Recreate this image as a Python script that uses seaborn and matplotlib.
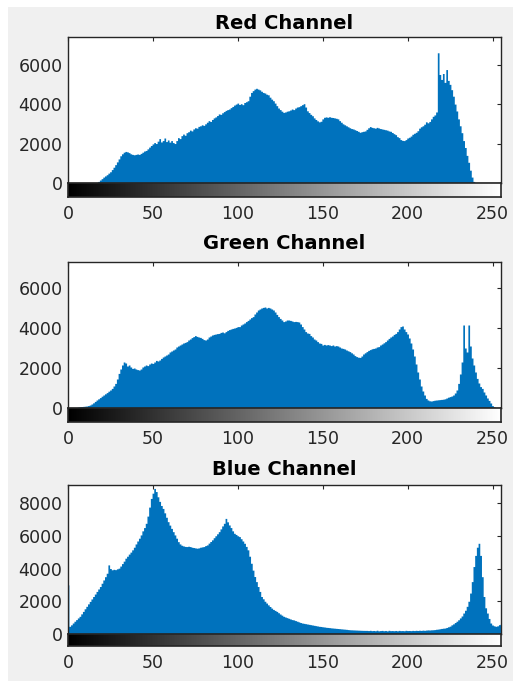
import numpy as np
import matplotlib
matplotlib.use("Agg")
import matplotlib.pyplot as plt
import seaborn as sns
import pandas as pd

# ------------ histogram counts (bins 0..255) ------------#
levels = np.arange(256)

red_counts = [
    0, 0, 0, 0, 0, 0, 0, 0, 0, 0, 0, 0, 0, 0, 0, 0,
    0, 30, 80, 150, 220, 300, 360, 420, 500, 570, 680, 800, 930, 1070, 1220, 1380,
    1480, 1560, 1600, 1580, 1540, 1480, 1450, 1430, 1450, 1470, 1450, 1500, 1560, 1620, 1650, 1730,
    1820, 1900, 1980, 2050, 2000, 2120, 2250, 2080, 2150, 2280, 2100, 2180, 2070, 2150, 2050, 2000,
    2150, 2300, 2250, 2400, 2480, 2420, 2550, 2600, 2680, 2640, 2740, 2800, 2780, 2870, 2900, 2950,
    2920, 3000, 3080, 3160, 3120, 3220, 3300, 3350, 3420, 3500, 3480, 3560, 3620, 3680, 3720, 3750,
    3820, 3880, 3950, 4000, 4050, 3980, 4020, 3970, 4080, 4120, 4170, 4400, 4590, 4680, 4760, 4800,
    4760, 4720, 4650, 4590, 4560, 4500, 4470, 4350, 4250, 4170, 4050, 3920, 3800, 3720, 3640, 3580,
    3600, 3640, 3660, 3700, 3750, 3720, 3800, 3850, 3870, 3920, 3970, 4020, 3850, 3660, 3570, 3480,
    3410, 3300, 3220, 3150, 3100, 3130, 3250, 3330, 3350, 3330, 3360, 3330, 3320, 3300, 3280, 3250,
    3160, 3080, 3000, 2950, 2900, 2850, 2800, 2760, 2740, 2700, 2660, 2620, 2570, 2600, 2620, 2640,
    2720, 2800, 2860, 2820, 2800, 2780, 2820, 2790, 2760, 2740, 2720, 2700, 2680, 2640, 2620, 2560,
    2500, 2450, 2350, 2300, 2200, 2160, 2150, 2200, 2280, 2320, 2380, 2470, 2520, 2570, 2650, 2780,
    2850, 2900, 2980, 3100, 3050, 3120, 3250, 3380, 3450, 3600, 6600, 5500, 5250, 5550, 5100, 5750,
    5200, 5000, 4730, 4400, 4000, 3650, 3250, 2900, 2550, 2150, 1800, 1400, 1050, 650, 300, 80,
    20, 0, 0, 0, 0, 0, 0, 0, 0, 0, 0, 0, 0, 0, 0, 0,
]

green_counts = [
    0, 0, 0, 0, 0, 20, 40, 60, 70, 80, 90, 100, 120, 150, 200, 260,
    330, 400, 460, 520, 590, 650, 710, 770, 840, 900, 980, 1100, 1230, 1450, 1730, 1950,
    2150, 2300, 2250, 2100, 2150, 2050, 1980, 2000, 1950, 1920, 1900, 1950, 2050, 2100, 2150, 2120,
    2200, 2250, 2230, 2300, 2380, 2350, 2400, 2480, 2550, 2600, 2650, 2700, 2800, 2850, 2900, 2950,
    3050, 3100, 3150, 3200, 3250, 3280, 3320, 3400, 3450, 3520, 3570, 3620, 3580, 3550, 3530, 3480,
    3420, 3400, 3450, 3550, 3600, 3650, 3680, 3700, 3720, 3730, 3780, 3800, 3760, 3820, 3880, 3920,
    3950, 3980, 4000, 4030, 4070, 4070, 4150, 4200, 4250, 4320, 4380, 4450, 4520, 4570, 4700, 4800,
    4900, 4950, 5000, 5030, 5050, 5000, 5030, 5000, 4950, 4900, 4800, 4680, 4570, 4480, 4400, 4320,
    4350, 4400, 4400, 4380, 4350, 4320, 4330, 4320, 4300, 4200, 4070, 3950, 3820, 3750, 3730, 3620,
    3550, 3450, 3400, 3320, 3250, 3230, 3150, 3180, 3150, 3170, 3150, 3120, 3150, 3100, 3120, 3100,
    3050, 3000, 2980, 2950, 2900, 2860, 2820, 2760, 2700, 2620, 2570, 2540, 2530, 2600, 2700, 2760,
    2820, 2880, 2920, 2960, 2980, 3000, 3050, 3070, 3150, 3200, 3260, 3320, 3400, 3480, 3550, 3600,
    3680, 3730, 3820, 3950, 4070, 4100, 3950, 3820, 3700, 3500, 3250, 2950, 2600, 2200, 1800, 1450,
    1100, 850, 650, 480, 400, 360, 350, 370, 390, 400, 410, 420, 430, 440, 460, 500,
    540, 570, 600, 650, 750, 900, 1230, 1700, 2300, 4150, 3000, 2800, 4150, 3100, 2500, 2150,
    1800, 1480, 1250, 1070, 980, 800, 650, 500, 380, 250, 120, 60, 20, 0, 0, 0,
]

blue_counts = [
    3000, 470, 560, 670, 780, 880, 980, 1080, 1230, 1380, 1540, 1690, 1840, 1990, 2140, 2290,
    2440, 2600, 2750, 2900, 3100, 3300, 3500, 3710, 4220, 4000, 3920, 3950, 3930, 3980, 4020, 4150,
    4300, 4450, 4630, 4750, 4880, 5000, 5140, 5300, 5500, 5680, 5850, 6050, 6300, 6500, 6760, 7200,
    7750, 8280, 8600, 8890, 8700, 8380, 8100, 7850, 7670, 7400, 7130, 6860, 6650, 6450, 6250, 6050,
    5850, 5640, 5500, 5420, 5380, 5350, 5340, 5360, 5340, 5300, 5280, 5260, 5240, 5260, 5300, 5320,
    5340, 5400, 5440, 5550, 5650, 5750, 5880, 6000, 6120, 6250, 6420, 6600, 6760, 7060, 6850, 6660,
    6500, 6300, 6150, 6080, 6000, 5950, 5820, 5680, 5540, 5350, 5140, 4750, 4320, 3900, 3510, 3200,
    2900, 2600, 2290, 2150, 2000, 1890, 1780, 1680, 1580, 1500, 1440, 1380, 1300, 1220, 1150, 1080,
    1040, 1000, 960, 920, 880, 860, 820, 780, 740, 700, 670, 650, 630, 610, 590, 570,
    550, 530, 510, 490, 470, 460, 440, 430, 410, 400, 390, 375, 365, 355, 345, 335,
    325, 315, 305, 295, 285, 270, 260, 255, 250, 245, 240, 235, 230, 225, 222, 220,
    220, 210, 225, 205, 215, 200, 230, 195, 210, 220, 200, 215, 190, 225, 205, 210,
    200, 215, 195, 220, 205, 210, 200, 225, 210, 215, 205, 220, 210, 225, 215, 230,
    220, 235, 225, 240, 250, 245, 255, 260, 270, 290, 300, 320, 340, 355, 365, 400,
    440, 480, 560, 620, 700, 780, 870, 980, 1100, 1280, 1450, 1690, 2000, 2500, 3200, 4120,
    4800, 5300, 5540, 4800, 3500, 2290, 1600, 1280, 950, 670, 550, 500, 470, 500, 570, 600,
]

titles = ["Red Channel", "Green Channel", "Blue Channel"]
y_tops = [7400, 7300, 9100]
y_ticks = [[0, 2000, 4000, 6000], [0, 2000, 4000, 6000], [0, 2000, 4000, 6000, 8000]]
x_ticks = [0, 50, 100, 150, 200, 250]

sns.set_style("white")
plt.rcParams['font.family'] = ['DejaVu Sans']

W, H = 521, 681
fig = plt.figure(figsize=(W / 100, H / 100), dpi=100, facecolor='white')
fig.patches.append(plt.Rectangle((8 / W, 0), 505 / W, 1 - 7 / H, transform=fig.transFigure,
                                 facecolor='#f0f0f0', edgecolor='none', zorder=-10))

# pixel rows: top of plot, zero line, bottom of gray bar
rows = [(37, 183, 197), (262, 408, 422), (485, 634, 646)]
title_pads = [5.8, 9.4, 7.2]
left, right = 68, 501
dark = '#262626'


def box(top, bottom):
    return [left / W, 1 - bottom / H, (right - left) / W, (bottom - top) / H]


for i, counts in enumerate([red_counts, green_counts, blue_counts]):
    top, zero, bar_bottom = rows[i]
    df = pd.DataFrame({"level": levels, "count": counts})

    ax = fig.add_axes(box(top, zero))
    sns.histplot(data=df, x="level", weights="count", discrete=True, element="step",
                 fill=True, color="#0072BD", alpha=1, linewidth=0, ax=ax)
    ax.set_xlim(0, 255)
    ax.set_ylim(0, y_tops[i])
    ax.set_xticks(x_ticks)
    ax.set_yticks(y_ticks[i])
    ax.set_xlabel('')
    ax.set_ylabel('')
    ax.set_facecolor('white')
    ax.tick_params(direction='in', length=3, width=0.8, color=dark, labelcolor=dark,
                   top=True, bottom=False, labelbottom=False, right=True, labelsize=12.5, pad=4)
    for sp in ax.spines.values():
        sp.set_color(dark)
        sp.set_linewidth(1.0)
    ax.set_title(titles[i], fontsize=14, fontweight='bold', color='black', pad=title_pads[i])

    # gray level strip under the histogram
    cax = fig.add_axes(box(zero, bar_bottom))
    cax.imshow(np.linspace(0, 1, 256)[None, :], cmap='gray', aspect='auto',
               extent=[0, 255, 0, 1])
    cax.set_xlim(0, 255)
    cax.set_yticks([])
    cax.set_xticks(x_ticks)
    cax.tick_params(direction='in', length=(bar_bottom - zero) * 0.72, width=0.8, color=dark,
                    labelcolor=dark, labelsize=12.5, pad=6)
    for sp in cax.spines.values():
        sp.set_color(dark)
        sp.set_linewidth(1.2)

fig.savefig('out.png', dpi=100, facecolor=fig.get_facecolor())
